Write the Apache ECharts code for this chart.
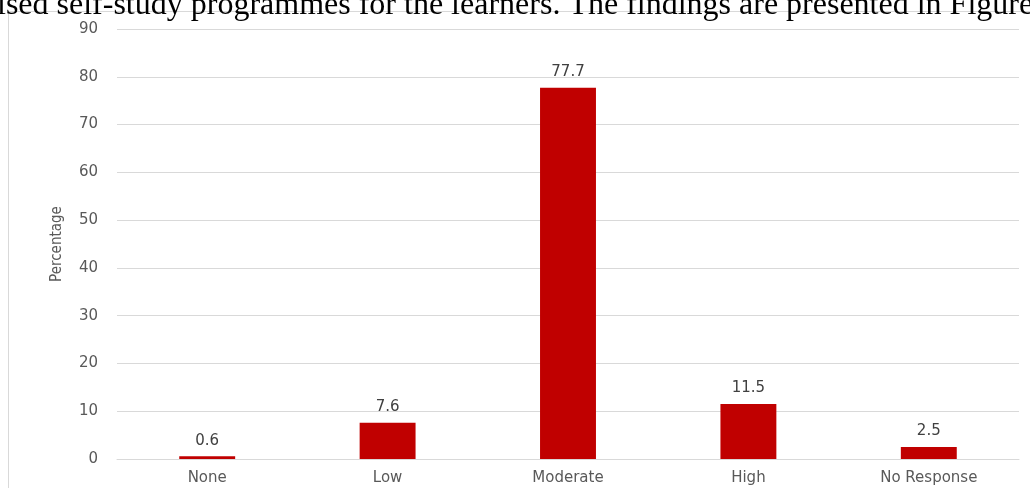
<!DOCTYPE html>
<html><head><meta charset="utf-8">
<script src="https://cdn.jsdelivr.net/npm/echarts@6/dist/echarts.min.js"></script>
<style>html,body{margin:0;padding:0;background:#fff}#c{width:1030px;height:488px}</style>
</head><body><div id="c"></div>
<script>
const categories = ['None', 'Low', 'Moderate', 'High', 'No Response'];
const values = [0.6, 7.6, 77.7, 11.5, 2.5];
const yTicks = [0, 10, 20, 30, 40, 50, 60, 70, 80, 90];
const headerText = 'ised self-study programmes for the learners. The findings are presented in Figure';

const sans = '"DejaVu Sans", "Open Sans", sans-serif';
const chart = echarts.init(document.getElementById('c'), null, {renderer: 'canvas'});
chart.setOption({
  animation: false,
  grid: {left: 117, right: 11, top: 29, bottom: 29, containLabel: false},
  graphic: [
    {type: 'rect', shape: {x: 8.5, y: 11.5, width: 1030, height: 500}, style: {fill: 'none', stroke: '#d9d9d9', lineWidth: 1}},
    {type: 'text', x: -3, y: 6, style: {text: headerText, font: '32px "Liberation Serif", "Times New Roman", serif', fill: '#000', verticalAlign: 'middle', align: 'left'}}
  ],
  xAxis: {
    type: 'category', data: categories,
    axisLine: {show: true, lineStyle: {color: '#d9d9d9'}},
    axisTick: {show: false},
    axisLabel: {color: '#595959', fontSize: 15, fontFamily: sans, margin: 12}
  },
  yAxis: {
    type: 'value', min: yTicks[0], max: yTicks[yTicks.length - 1], interval: 10,
    name: 'Percentage', nameLocation: 'middle', nameGap: 52, nameRotate: 90,
    nameTextStyle: {color: '#595959', fontSize: 15, fontFamily: '"Liberation Sans Narrow", "DejaVu Sans Condensed", sans-serif'},
    axisLine: {show: false}, axisTick: {show: false},
    splitLine: {lineStyle: {color: '#d9d9d9'}},
    axisLabel: {color: '#595959', fontSize: 15, fontFamily: sans, margin: 19}
  },
  series: [{
    type: 'bar', data: values, barWidth: '31%',
    itemStyle: {color: '#c00000'},
    label: {show: true, position: 'top', color: '#404040', fontSize: 15, fontFamily: sans, distance: 8}
  }]
});
</script></body></html>
